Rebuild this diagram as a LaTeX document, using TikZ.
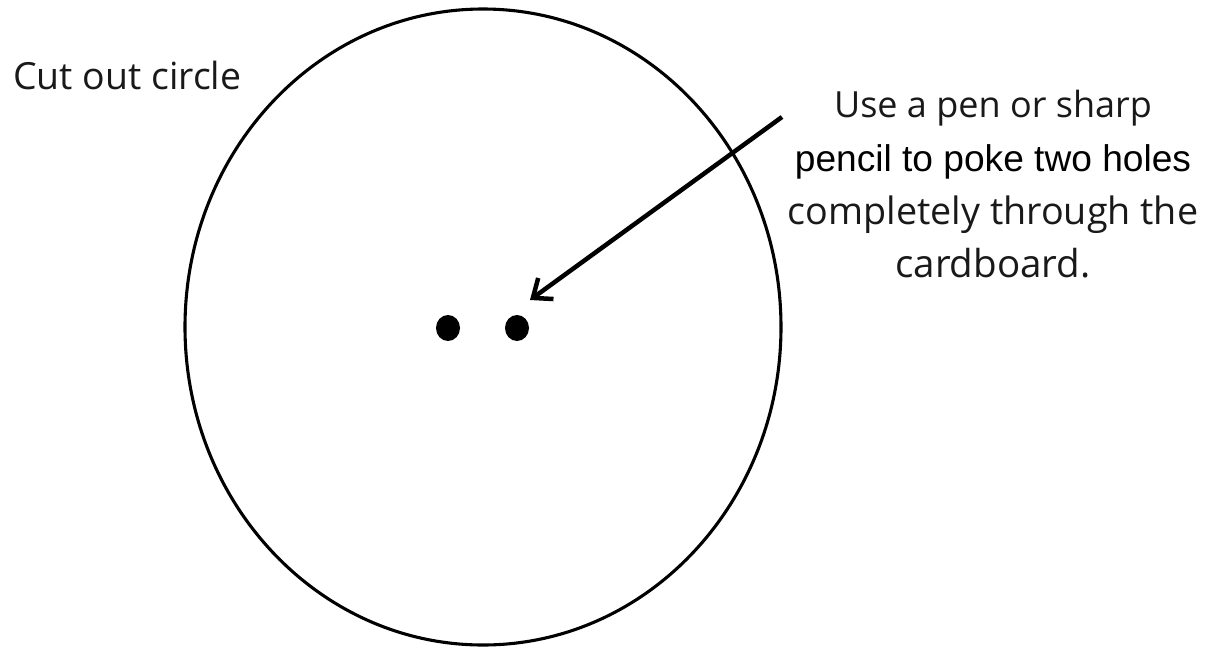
\documentclass[tikz,border=0pt]{standalone}
\usepackage{fontspec}
\setmainfont{Open Sans}
\newfontfamily\arialfont{Liberation Sans}
\usepackage{tikz}
\usetikzlibrary{arrows.meta,shapes.geometric}

\begin{document}
\begin{tikzpicture}[x=0.025cm,y=-0.025cm,
  hole/.style={ellipse,fill=black,inner sep=0pt,minimum width=0.6cm,minimum height=0.65cm},
  label/.style={inner sep=0pt,text=black!90},
  pointer/.style={-{Straight Barb[length=4mm,width=6.5mm]},line width=3.2pt}]
  \useasboundingbox (0,0) rectangle (1219,647);
  \draw[line width=2.2pt] (483,327) ellipse [x radius=298,y radius=318];

  \node[label,anchor=base west,font=\fontsize{26.6}{30}\selectfont] (cutlabel) at (13,89)
    {Cut out circle};
  \node[label,anchor=north,align=center,font=\fontsize{25.6}{38}\selectfont] (note) at (993,90)
    {Use a pen or sharp\\ {\arialfont\fontsize{26.4}{38}\selectfont\color{black}pencil to poke two holes}\\
     {\fontsize{26.8}{38}\selectfont completely through the}\\
     {\fontsize{27.4}{38}\selectfont cardboard.}};

  \node[hole] (hole1) at (448,328) {};
  \node[hole] (hole2) at (517,328) {};

  \coordinate (tail) at (782,117);
  \coordinate (tip) at (530,300);
  \draw[pointer] (tail) -- (tip);
\end{tikzpicture}
\end{document}
